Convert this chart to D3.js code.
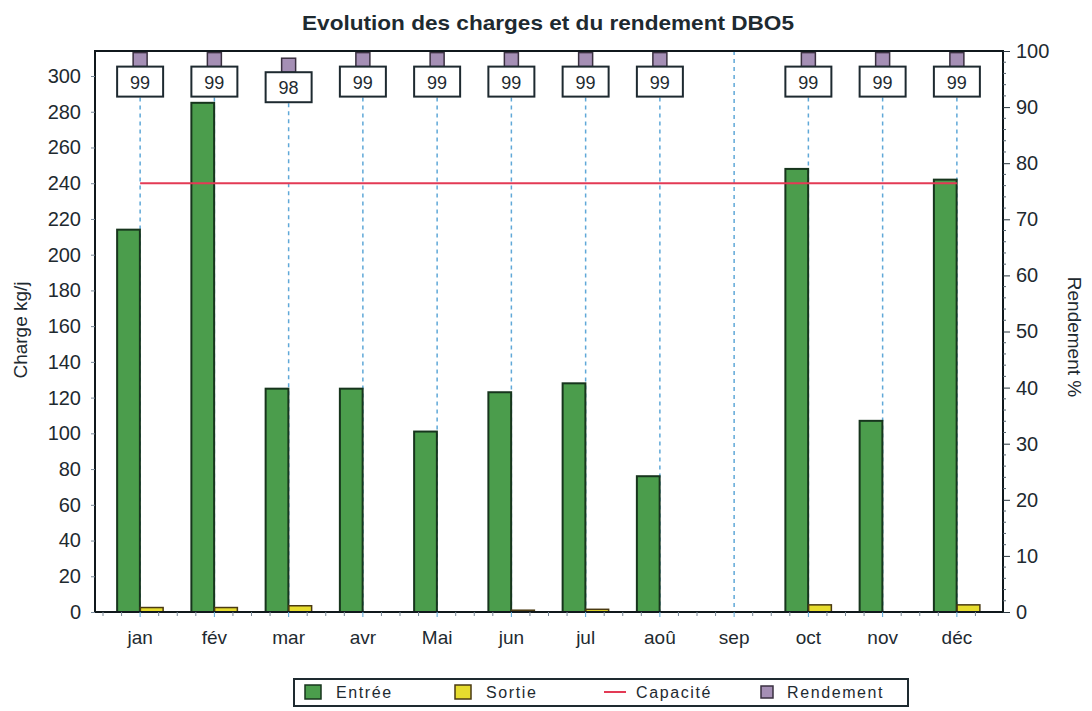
<!DOCTYPE html>
<html>
<head>
<meta charset="utf-8">
<script src="https://cdn.jsdelivr.net/npm/d3@7"></script>
<style>
  body { margin: 0; background: #fff; }
  svg text { font-family: "Liberation Sans", Arial, sans-serif; fill: #1e2a30; }
</style>
</head>
<body>
<div id="chart"></div>
<script>
// data
var months = ["jan", "fév", "mar", "avr", "Mai", "jun", "jul", "aoû", "sep", "oct", "nov", "déc"];
var entree = [214, 285, 125, 125, 101, 123, 128, 76, 0, 248, 107, 242];
var sortie = [2.5, 2.5, 3.5, 0, 0, 1, 1.5, 0, 0, 4, 0, 4];
var rendement = [99, 99, 98, 99, 99, 99, 99, 99, null, 99, 99, 99];
var capacite = 240;
var leftTicks = [0, 20, 40, 60, 80, 100, 120, 140, 160, 180, 200, 220, 240, 260, 280, 300];
var rightTicks = [0, 10, 20, 30, 40, 50, 60, 70, 80, 90, 100];
var seriesNames = ["Entrée", "Sortie", "Capacité", "Rendement"];

(function() {
  "use strict";

  var W = 1092, H = 711;
  var left = 95, right = 1003, top = 51, bottom = 612;

  var svg = d3.select("#chart").append("svg")
    .attr("width", W).attr("height", H);

  var x = d3.scaleBand().domain(months).range([103, 994]);
  var bw = x.bandwidth();
  var xs = d3.scaleBand().domain(["Entrée", "Sortie"]).range([bw / 2 - 23, bw / 2 + 23]).paddingInner(0.02);
  var y = d3.scaleLinear().domain([0, 314]).range([bottom, top]);
  var yR = d3.scaleLinear().domain([0, 100]).range([bottom, top]);

  // title
  svg.append("text")
    .attr("x", 548).attr("y", 30)
    .attr("text-anchor", "middle")
    .attr("font-size", 21).attr("font-weight", "bold")
    .attr("textLength", 492).attr("lengthAdjust", "spacingAndGlyphs")
    .text("Evolution des charges et du rendement DBO5");

  // dashed guide lines
  var g = svg.append("g");
  months.forEach(function(m, i) {
    var cx = x(m) + bw / 2;
    var y0 = rendement[i] == null ? top : yR(rendement[i]) + 41;
    g.append("line")
      .attr("x1", cx).attr("x2", cx)
      .attr("y1", y0).attr("y2", bottom)
      .attr("stroke", "#5fa8d8").attr("stroke-width", 1.5)
      .attr("stroke-dasharray", "4,4");
  });

  // bars
  var groups = g.selectAll(".grp").data(months).enter().append("g")
    .attr("transform", function(d) { return "translate(" + x(d) + ",0)"; });

  groups.append("rect")
    .attr("x", xs("Entrée")).attr("width", xs.bandwidth())
    .attr("y", function(d, i) { return y(entree[i]); })
    .attr("height", function(d, i) { return bottom - y(entree[i]); })
    .attr("fill", "#4b9d4c").attr("stroke", "#17351d").attr("stroke-width", 2)
    .style("display", function(d, i) { return entree[i] > 0 ? null : "none"; });

  groups.append("rect")
    .attr("x", xs("Sortie")).attr("width", xs.bandwidth())
    .attr("y", function(d, i) { return y(sortie[i]); })
    .attr("height", function(d, i) { return bottom - y(sortie[i]); })
    .attr("fill", "#e6dc2e").attr("stroke", "#4a3a12").attr("stroke-width", 1.5)
    .style("display", function(d, i) { return sortie[i] > 0 ? null : "none"; });

  // capacity line
  g.append("line")
    .attr("x1", x(months[0]) + bw / 2).attr("x2", x(months[11]) + bw / 2)
    .attr("y1", y(capacite)).attr("y2", y(capacite))
    .attr("stroke", "#e33a55").attr("stroke-width", 2);

  // rendement markers + labels
  months.forEach(function(m, i) {
    if (rendement[i] == null) return;
    var cx = x(m) + bw / 2, cy = yR(rendement[i]);
    g.append("rect")
      .attr("x", cx - 7).attr("y", Math.max(cy - 4, top)).attr("width", 14)
      .attr("height", cy + 10 - Math.max(cy - 4, top))
      .attr("fill", "#a58fb5").attr("stroke", "#3a3040").attr("stroke-width", 1.5);
    g.append("rect")
      .attr("x", cx - 23).attr("y", cy + 10).attr("width", 46).attr("height", 30)
      .attr("fill", "#fff").attr("stroke", "#1e2a30").attr("stroke-width", 2);
    g.append("text")
      .attr("x", cx).attr("y", cy + 32)
      .attr("text-anchor", "middle").attr("font-size", 18)
      .text(rendement[i]);
  });

  // frame
  svg.append("rect")
    .attr("x", left).attr("y", top)
    .attr("width", right - left).attr("height", bottom - top)
    .attr("fill", "none").attr("stroke", "#10181c").attr("stroke-width", 2);

  // left axis
  var yAxis = d3.axisLeft(y).tickValues(leftTicks).tickSize(4).tickPadding(10);
  var ga = svg.append("g").attr("transform", "translate(" + left + ",0)").call(yAxis);
  ga.select(".domain").remove();
  ga.selectAll("line").attr("stroke", "#7a8a99");
  ga.selectAll("text").attr("font-size", 20).attr("fill", "#27343c")
    .attr("font-family", "Liberation Sans, Arial, sans-serif");

  // right axis with minor ticks
  var yAxisR = d3.axisRight(yR).tickValues(rightTicks).tickSize(7).tickPadding(6);
  var gr = svg.append("g").attr("transform", "translate(" + right + ",0)").call(yAxisR);
  gr.select(".domain").remove();
  gr.selectAll("line").attr("stroke", "#27343c");
  gr.selectAll("text").attr("font-size", 20).attr("fill", "#27343c")
    .attr("font-family", "Liberation Sans, Arial, sans-serif");
  var minorR = d3.range(0, 101, 2).filter(function(v) { return v % 10 !== 0; });
  svg.append("g").selectAll("line").data(minorR).enter().append("line")
    .attr("x1", right).attr("x2", right + 3)
    .attr("y1", function(d) { return yR(d); }).attr("y2", function(d) { return yR(d); })
    .attr("stroke", "#55636e");

  // bottom axis
  var xAxis = d3.axisBottom(x).tickSize(5).tickPadding(14);
  var gx = svg.append("g").attr("transform", "translate(0," + bottom + ")").call(xAxis);
  gx.select(".domain").remove();
  gx.selectAll("line").attr("stroke", "#5fa8d8");
  gx.selectAll("text").attr("font-size", 19).attr("fill", "#2b363d")
    .attr("font-family", "Liberation Sans, Arial, sans-serif");
  var minorX = [];
  months.forEach(function(m) { [-0.5, -0.25, 0.25].forEach(function(f) { minorX.push(x(m) + bw / 2 + f * bw); }); });
  svg.append("g").selectAll("line").data(minorX).enter().append("line")
    .attr("x1", function(d) { return d; }).attr("x2", function(d) { return d; })
    .attr("y1", bottom).attr("y2", bottom + 4)
    .attr("stroke", "#7a8a99");

  // axis titles
  svg.append("text")
    .attr("transform", "translate(27,330) rotate(-90)")
    .attr("text-anchor", "middle").attr("font-size", 19)
    .text("Charge kg/j");
  svg.append("text")
    .attr("transform", "translate(1068,337) rotate(90)")
    .attr("text-anchor", "middle").attr("font-size", 19)
    .text("Rendement %");

  // legend
  var lg = svg.append("g");
  lg.append("rect").attr("x", 294).attr("y", 679).attr("width", 614).attr("height", 27)
    .attr("fill", "#fff").attr("stroke", "#1e2a30").attr("stroke-width", 2);
  var lx = [305, 455, 604, 761];
  var tx = [336, 486, 636, 787];
  lg.append("rect").attr("x", lx[0]).attr("y", 685).attr("width", 16).attr("height", 14)
    .attr("fill", "#4b9d4c").attr("stroke", "#17351d").attr("stroke-width", 1.5);
  lg.append("rect").attr("x", lx[1]).attr("y", 685).attr("width", 16).attr("height", 14)
    .attr("fill", "#e6dc2e").attr("stroke", "#4a3a12").attr("stroke-width", 1.5);
  lg.append("line").attr("x1", lx[2]).attr("x2", lx[2] + 22).attr("y1", 692).attr("y2", 692)
    .attr("stroke", "#e33a55").attr("stroke-width", 2);
  lg.append("rect").attr("x", lx[3]).attr("y", 686).attr("width", 12).attr("height", 12)
    .attr("fill", "#a58fb5").attr("stroke", "#3a3040").attr("stroke-width", 1.5);
  seriesNames.forEach(function(s, i) {
    lg.append("text").attr("x", tx[i]).attr("y", 698)
      .attr("font-size", 16).attr("letter-spacing", 1.6)
      .text(s);
  });
})();
</script>
</body>
</html>
